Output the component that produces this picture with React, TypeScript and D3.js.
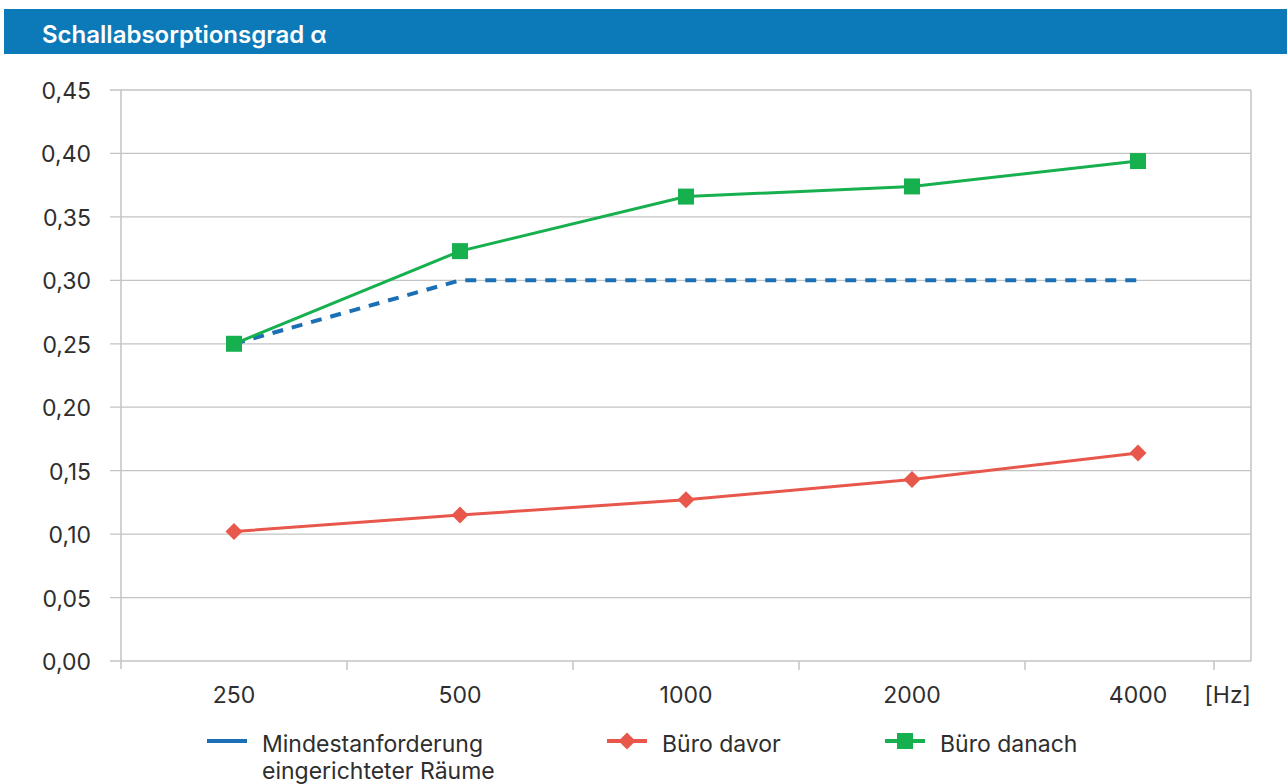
import React from "react";
import * as d3 from "d3";

const categories = ["250", "500", "1000", "2000", "4000"];
const mindestanforderung = [0.25, 0.3, 0.3, 0.3, 0.3];
const bueroDavor = [0.102, 0.115, 0.127, 0.143, 0.164];
const bueroDanach = [0.25, 0.323, 0.366, 0.374, 0.394];
const yTicks = [0, 0.05, 0.1, 0.15, 0.2, 0.25, 0.3, 0.35, 0.4, 0.45];

const W = 1287;
const H = 784;
const plot = { left: 121, right: 1251, top: 90, bottom: 661 };
const FONT = "Inter, 'Noto Sans', sans-serif";
const TEXT = "#2e2e2e";
const GRID = "#c3c3c3";
const BLUE = "#1b6fb5";
const RED = "#e8574b";
const GREEN = "#17b04f";
const FS = 23;

export default function App() {
  const x = d3
    .scaleBand<string>()
    .domain(categories)
    .range([plot.left, plot.right])
    .paddingInner(0)
    .paddingOuter(0);
  const y = d3.scaleLinear().domain([0, 0.45]).range([plot.bottom, plot.top]);
  const cx = (c: string) => (x(c) ?? 0) + x.bandwidth() / 2;
  const line = d3
    .line<number>()
    .x((_, i) => cx(categories[i]))
    .y((d) => y(d));
  const fmt = (v: number) => v.toFixed(2).replace(".", ",");
  const boundaries = categories.map((c) => x(c) ?? 0);
  const unitTickX = plot.right - 37;

  return (
    <svg
      width={W}
      height={H}
      style={{ position: "absolute", left: 0, top: 0, background: "#fff" }}
      fontFamily={FONT}
    >
      {/* header bar */}
      <rect x={4} y={9} width={W - 4} height={45} fill="#0c79b9" />
      <text x={42} y={43} fill="#fff" fontSize={24} fontWeight={600}>
        Schallabsorptionsgrad α
      </text>

      {/* horizontal grid + y ticks */}
      {yTicks.map((t) => (
        <g key={t}>
          <line x1={plot.left - 11} x2={plot.right} y1={y(t)} y2={y(t)} stroke={GRID} strokeWidth={1.3} />
          <text x={91} y={y(t) + 9} textAnchor="end" fontSize={FS} fill={TEXT}>
            {fmt(t)}
          </text>
        </g>
      ))}
      {/* axis frame */}
      <line x1={plot.left} x2={plot.left} y1={plot.top} y2={plot.bottom + 8} stroke={GRID} strokeWidth={1.5} />
      <line x1={plot.right} x2={plot.right} y1={plot.top} y2={plot.bottom} stroke={GRID} strokeWidth={1.5} />
      {boundaries.slice(1).map((b) => (
        <line key={b} x1={b} x2={b} y1={plot.bottom} y2={plot.bottom + 9} stroke={GRID} strokeWidth={1.5} />
      ))}
      <line x1={unitTickX} x2={unitTickX} y1={plot.bottom} y2={plot.bottom + 9} stroke={GRID} strokeWidth={1.5} />

      {/* x labels */}
      {categories.map((c) => (
        <text key={c} x={cx(c)} y={703} textAnchor="middle" fontSize={FS} fill={TEXT}>
          {c}
        </text>
      ))}
      <text x={plot.right} y={703} textAnchor="end" fontSize={FS} fill={TEXT}>
        [Hz]
      </text>

      {/* series */}
      <path
        d={line(mindestanforderung) ?? ""}
        fill="none"
        stroke={BLUE}
        strokeWidth={4}
        strokeDasharray="11 9"
      />
      <path d={line(bueroDavor) ?? ""} fill="none" stroke={RED} strokeWidth={3} />
      {bueroDavor.map((v, i) => (
        <rect
          key={i}
          x={-6}
          y={-6}
          width={12}
          height={12}
          fill={RED}
          transform={`translate(${cx(categories[i])},${y(v)}) rotate(45)`}
        />
      ))}
      <path d={line(bueroDanach) ?? ""} fill="none" stroke={GREEN} strokeWidth={3} />
      {bueroDanach.map((v, i) => (
        <rect key={i} x={cx(categories[i]) - 8} y={y(v) - 8} width={16} height={16} fill={GREEN} />
      ))}

      {/* legend */}
      <g fontSize={FS} fill={TEXT}>
        <line x1={207} x2={247} y1={741} y2={741} stroke={BLUE} strokeWidth={4} />
        <text x={262} y={752}>Mindestanforderung</text>
        <text x={262} y={779}>eingerichteter Räume</text>

        <line x1={607} x2={647} y1={741} y2={741} stroke={RED} strokeWidth={4} />
        <rect x={-6} y={-6} width={12} height={12} fill={RED} transform="translate(627,741) rotate(45)" />
        <text x={662} y={752}>Büro davor</text>

        <line x1={885} x2={925} y1={741} y2={741} stroke={GREEN} strokeWidth={4} />
        <rect x={897} y={733} width={16} height={16} fill={GREEN} />
        <text x={940} y={752}>Büro danach</text>
      </g>
    </svg>
  );
}
